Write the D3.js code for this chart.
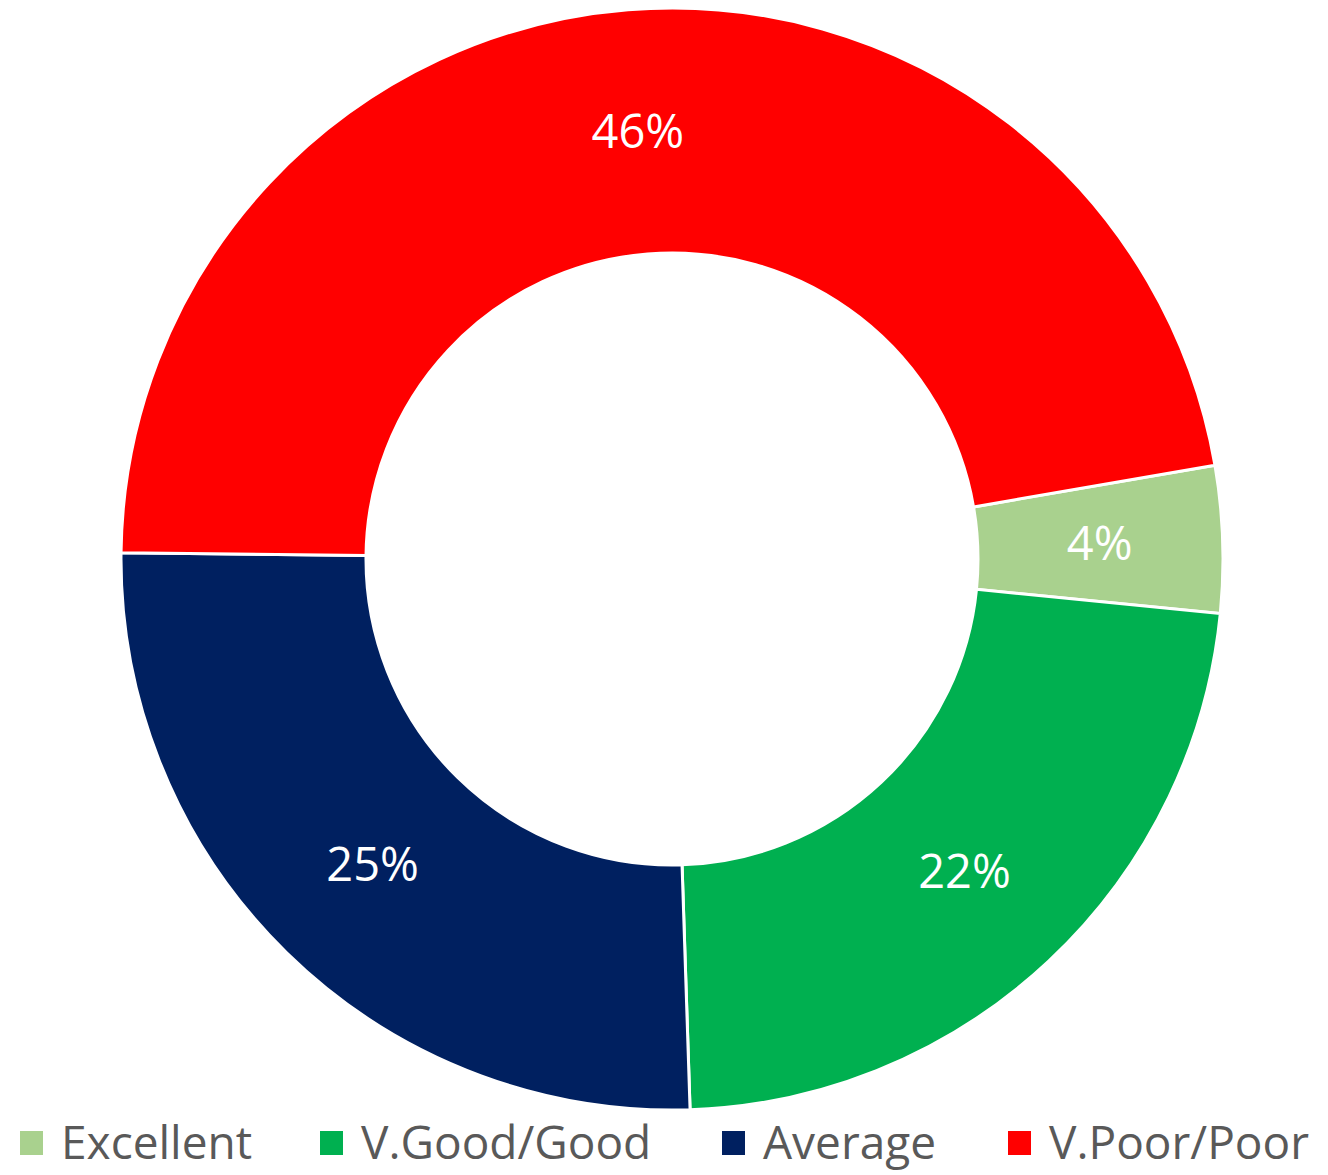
<!DOCTYPE html>
<html lang="en">
<script src="https://d3js.org/d3.v7.min.js"></script>
<style>
    body {margin: 0; background: white;}
    .label text {fill: white; text-anchor: middle; font-family: "Open Sans", sans-serif; font-size: 47px;}
    .legend text {fill: #595959; font-family: "Open Sans", sans-serif; font-size: 46px;}
</style>
<body>
    <svg width="1328" height="1175"></svg>
</body>
<script>
    var categories = ["Excellent", "V.Good/Good", "Average", "V.Poor/Poor"];
    // slice shares as measured from the ring, and the labels as printed
    var values = [4.3, 22.9, 25.7, 47.1];
    var labels = ["4%", "22%", "25%", "46%"];
    var colors = ["#A9D18E", "#00B050", "#002060", "#FF0000"];

    var svg = d3.select("svg");
    var cx = 672, cy = 559;
    var outerR = 551, innerR = 306;

    var data = categories.map(function(c, i){ return {name: c, value: values[i], label: labels[i], color: colors[i]}; });

    // first slice starts at about 80 degrees, like the source chart
    var start = 80.2 * Math.PI / 180;
    var pie = d3.pie().sort(null).value(function(d){ return d.value; })
        .startAngle(start).endAngle(start + 2 * Math.PI);
    var arc = d3.arc().innerRadius(innerR).outerRadius(outerR);
    var labelArc = d3.arc().innerRadius(428).outerRadius(428);

    var arcs = pie(data);
    var g = svg.append("g").attr("transform", "translate(" + cx + "," + cy + ")");

    g.selectAll("path").data(arcs).enter().append("path")
        .attr("d", arc)
        .attr("fill", function(d){ return d.data.color; })
        .attr("stroke", "white")
        .attr("stroke-width", 3);

    g.append("g").attr("class", "label").selectAll("text").data(arcs).enter().append("text")
        .attr("transform", function(d){ var c = labelArc.centroid(d); return "translate(" + c[0] + "," + (c[1] + 16) + ")"; })
        .text(function(d){ return d.data.label; });

    // legend
    var legendX = [20, 320, 722, 1008];
    var legend = svg.append("g").attr("class", "legend").selectAll("g").data(data).enter().append("g")
        .attr("transform", function(d, i){ return "translate(" + legendX[i] + ",1131)"; });
    legend.append("rect").attr("width", 23).attr("height", 24).attr("fill", function(d){ return d.color; });
    legend.append("text").attr("x", 41).attr("y", 28).text(function(d){ return d.name; });
</script>
</html>
